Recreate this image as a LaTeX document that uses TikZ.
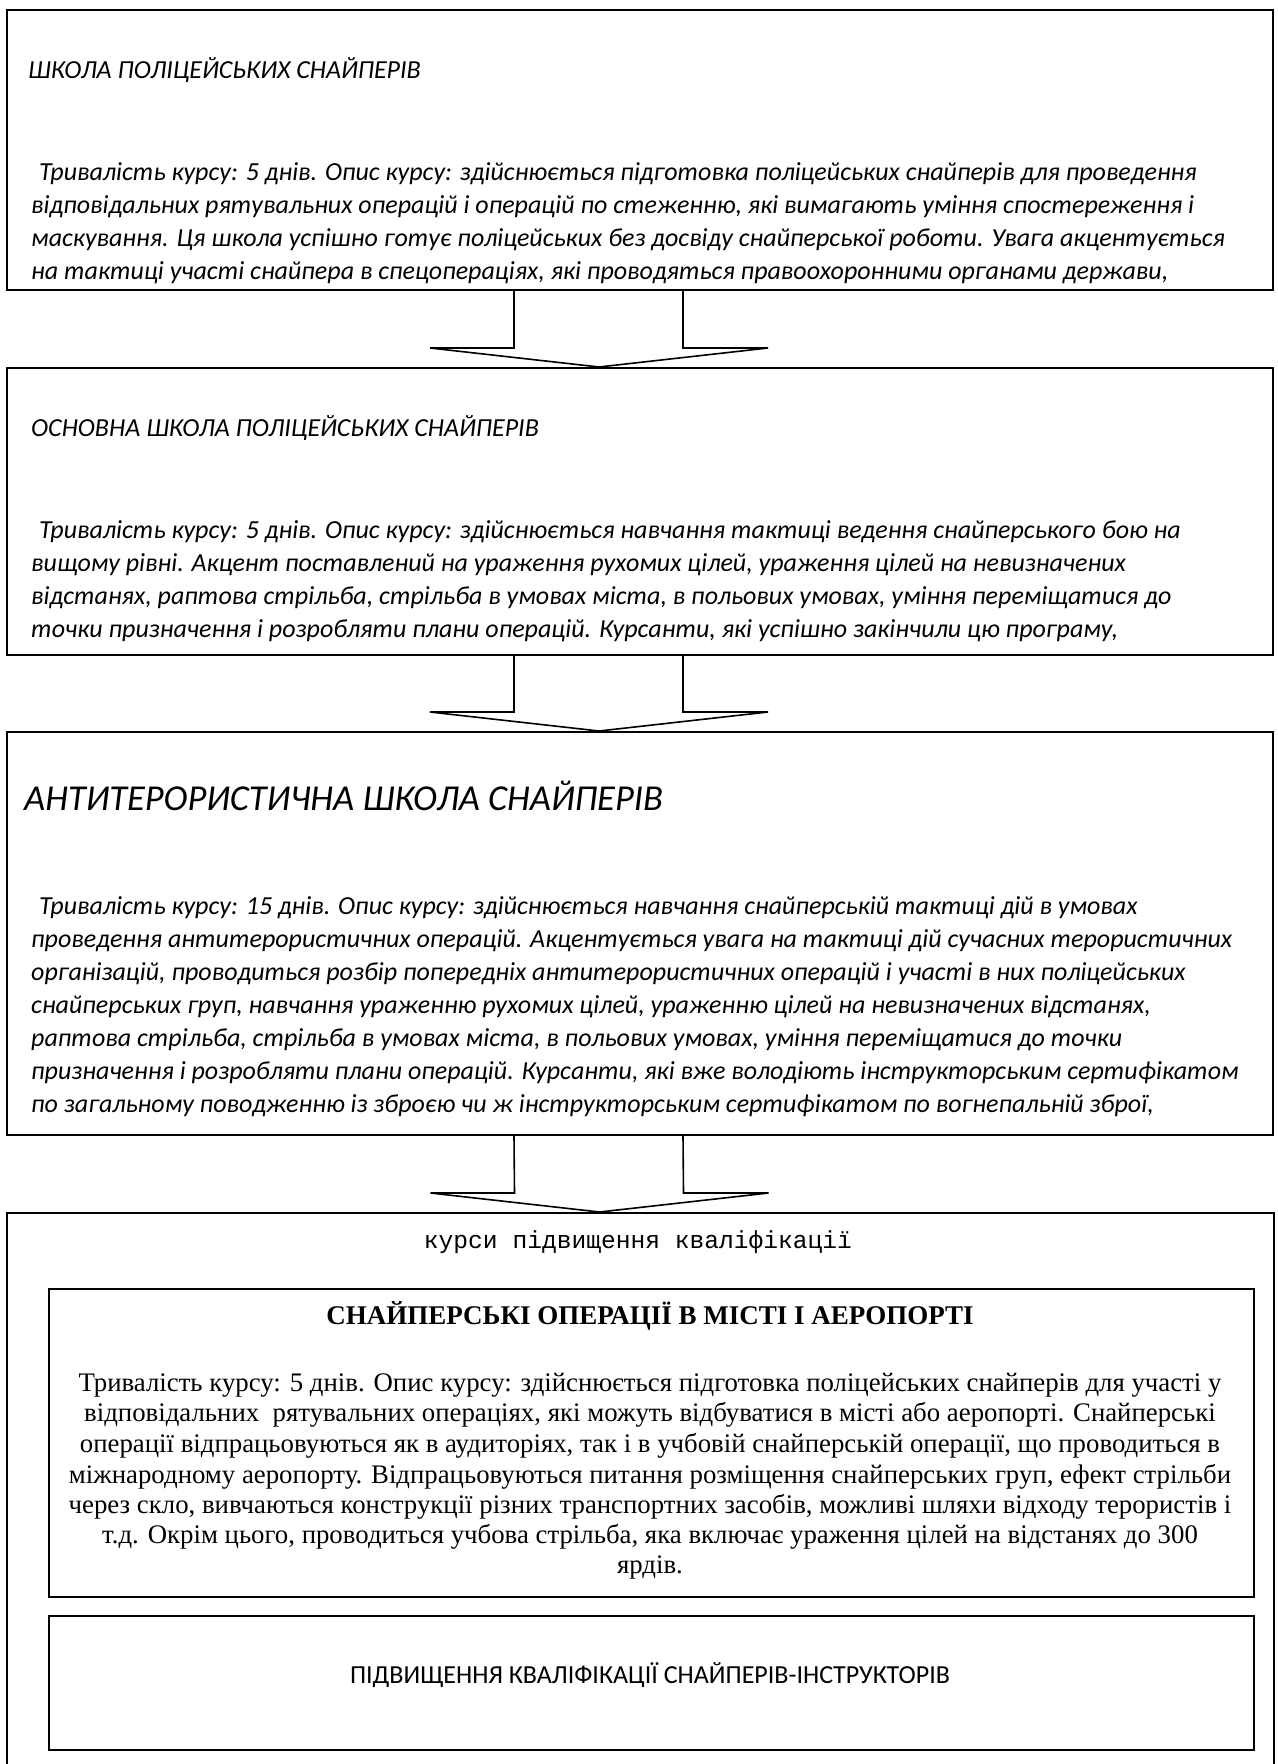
\documentclass[tikz,border=0pt]{standalone}
\usepackage{fontspec}
\setmainfont{Carlito}
\newfontfamily\tnr{Liberation Serif}
\newfontfamily\cour{Liberation Mono}
\usetikzlibrary{calc}
\tikzset{
  frame/.style={draw, line width=2pt, rectangle, inner sep=0pt, anchor=north west},
  arr/.style={draw, line width=1.6pt, line join=miter},
  ttl/.style={anchor=base west, inner sep=0pt, font=\fontsize{26}{31}\selectfont\itshape},
  bigttl/.style={anchor=base west, inner sep=0pt, font=\fontsize{36.5}{42}\selectfont\itshape},
  ln/.style={anchor=base west, inner sep=0pt, font=\fontsize{26}{31}\selectfont\itshape},
  mono/.style={anchor=base, inner sep=0pt, font=\fontsize{24.6}{28}\cour},
  sttl/.style={anchor=base, inner sep=0pt, font=\fontsize{27}{30}\tnr\bfseries},
  sln/.style={anchor=base, inner sep=0pt, font=\fontsize{26.8}{30}\tnr},
  cttl/.style={anchor=base, inner sep=0pt, font=\fontsize{26}{30}\selectfont},
}
\newcommand\blockarrow[2]{%
  \draw[arr] ($(#1.south)+(-126,0)$) -- ($(#2.north)+(-126,-19)$)
    -- ($(#2.north)+(-210,-19)$) -- ($(#2.north)+(-41,0)$)
    -- ($(#2.north)+(128,-19)$) -- ($(#2.north)+(43,-19)$)
    -- ($(#1.south)+(43,0)$);}
\begin{document}
\begin{tikzpicture}[x=1pt,y=-1pt]
\useasboundingbox (0,0) rectangle (1277,1764);
\clip (0,0) rectangle (1277,1764);
\fill[white] (0,0) rectangle (1277,1764);

% ---------- box 1
\node[frame, minimum width=1266pt, minimum height=280pt] (b1) at (6,9) {};
\begin{scope}
\clip (6,9) rectangle (1272,289);
\node[ttl] (b1t) at (28,78) {ШКОЛА ПОЛІЦЕЙСЬКИХ СНАЙПЕРІВ};
\node[ln] (b1a) at (39,180) {Тривалість курсу: 5 днів. Опис курсу: здійснюється підготовка поліцейських снайперів для проведення};
\node[ln] (b1b) at (31,213) {відповідальних рятувальних операцій і операцій по стеженню, які вимагають уміння спостереження і};
\node[ln] (b1c) at (31,246) {маскування. Ця школа успішно готує поліцейських без досвіду снайперської роботи. Увага акцентується};
\node[ln] (b1d) at (31,279) {на тактиці участі снайпера в спецопераціях, які проводяться правоохоронними органами держави,};
\end{scope}

% ---------- box 2
\node[frame, minimum width=1266pt, minimum height=287pt] (b2) at (6,367) {};
\begin{scope}
\clip (6,367) rectangle (1272,654);
\node[ttl] (b2t) at (31,436) {ОСНОВНА ШКОЛА ПОЛІЦЕЙСЬКИХ СНАЙПЕРІВ};
\node[ln] (b2a) at (39,538) {Тривалість курсу: 5 днів. Опис курсу: здійснюється навчання тактиці ведення снайперського бою на};
\node[ln] (b2b) at (31,571) {вищому рівні. Акцент поставлений на ураження рухомих цілей, ураження цілей на невизначених};
\node[ln] (b2c) at (31,604) {відстанях, раптова стрільба, стрільба в умовах міста, в польових умовах, уміння переміщатися до};
\node[ln] (b2d) at (31,637) {точки призначення і розробляти плани операцій. Курсанти, які успішно закінчили цю програму,};
\end{scope}

% ---------- box 3
\node[frame, minimum width=1266pt, minimum height=403pt] (b3) at (6,731) {};
\begin{scope}
\clip (6,731) rectangle (1272,1134);
\node[bigttl] (b3t) at (24,810) {АНТИТЕРОРИСТИЧНА ШКОЛА СНАЙПЕРІВ};
\node[ln] (b3a) at (39,914) {Тривалість курсу: 15 днів. Опис курсу: здійснюється навчання снайперській тактиці дій в умовах};
\node[ln] (b3b) at (31,947) {проведення антитерористичних операцій. Акцентується увага на тактиці дій сучасних терористичних};
\node[ln] (b3c) at (31,980) {організацій, проводиться розбір попередніх антитерористичних операцій і участі в них поліцейських};
\node[ln] (b3d) at (31,1013) {снайперських груп, навчання ураженню рухомих цілей, ураженню цілей на невизначених відстанях,};
\node[ln] (b3e) at (31,1046) {раптова стрільба, стрільба в умовах міста, в польових умовах, уміння переміщатися до точки};
\node[ln] (b3f) at (31,1079) {призначення і розробляти плани операцій. Курсанти, які вже володіють інструкторським сертифікатом};
\node[ln] (b3g) at (31,1112) {по загальному поводженню із зброєю чи ж інструкторським сертифікатом по вогнепальній зброї,};
\end{scope}

% ---------- box 4
\node[frame, minimum width=1267pt, minimum height=570pt] (b4) at (6,1212) {};
\node[mono] (b4t) at (638,1248) {курси підвищення кваліфікації};

\node[frame, minimum width=1205pt, minimum height=308pt] (ba) at (48,1288) {};
\node[sttl] (bat) at (650,1324) {СНАЙПЕРСЬКІ ОПЕРАЦІЇ В МІСТІ І АЕРОПОРТІ};
\node[sln] (baa) at (650,1391) {Тривалість курсу: 5 днів. Опис курсу: здійснюється підготовка поліцейських снайперів для участі у};
\node[sln] (bab) at (650,1421) {відповідальних\ \ рятувальних операціях, які можуть відбуватися в місті або аеропорті. Снайперські};
\node[sln] (bac) at (650,1452) {операції відпрацьовуються як в аудиторіях, так і в учбовій снайперській операції, що проводиться в};
\node[sln] (bad) at (650,1483) {міжнародному аеропорту. Відпрацьовуються питання розміщення снайперських груп, ефект стрільби};
\node[sln] (bae) at (650,1513) {через скло, вивчаються конструкції різних транспортних засобів, можливі шляхи відходу терористів і};
\node[sln] (baf) at (650,1543) {т.д. Окрім цього, проводиться учбова стрільба, яка включає ураження цілей на відстанях до 300};
\node[sln] (bag) at (650,1573) {ярдів.};

\node[frame, minimum width=1205pt, minimum height=134pt] (bb) at (48,1615) {};
\node[cttl] (bbt) at (650,1683) {ПІДВИЩЕННЯ КВАЛІФІКАЦІЇ СНАЙПЕРІВ-ІНСТРУКТОРІВ};

% ---------- arrows
\blockarrow{b1}{b2}
\blockarrow{b2}{b3}
\blockarrow{b3}{b4}
\end{tikzpicture}
\end{document}
